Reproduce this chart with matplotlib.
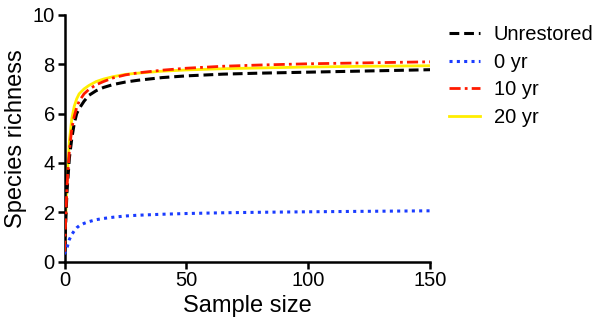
import numpy as np
import matplotlib
matplotlib.use("Agg")
import matplotlib.pyplot as plt

plt.rcParams['font.family'] = ['Liberation Sans', 'DejaVu Sans']

# tamaño de muestra (eje x)
muestra = [0, 1, 2, 3, 4, 5, 6, 8, 10, 13, 16, 20, 25, 30, 40, 50, 65, 80, 100, 125, 150]

# riqueza de especies
sin_restaurar = [0.4, 2.8, 4.2, 5.0, 5.6, 6.0, 6.2, 6.5, 6.74, 6.93, 7.06, 7.18, 7.28, 7.35, 7.46, 7.53, 7.6, 7.64, 7.68, 7.73, 7.78]
anio_0 = [0.3, 0.55, 0.9, 1.1, 1.25, 1.37, 1.45, 1.55, 1.62, 1.7, 1.75, 1.8, 1.85, 1.88, 1.92, 1.95, 1.98, 2.0, 2.02, 2.04, 2.06]
anio_10 = [0.4, 3.0, 4.5, 5.4, 5.9, 6.25, 6.5, 6.8, 6.98, 7.17, 7.3, 7.45, 7.57, 7.65, 7.76, 7.84, 7.92, 7.97, 8.02, 8.06, 8.1]
anio_20 = [0.35, 3.3, 4.9, 5.8, 6.3, 6.6, 6.8, 7.0, 7.14, 7.3, 7.4, 7.5, 7.59, 7.64, 7.72, 7.77, 7.82, 7.85, 7.89, 7.92, 7.94]

etiquetas = ["Unrestored", "0 yr", "10 yr", "20 yr"]

fig = plt.figure(figsize=(6.0, 3.32), dpi=100)
ax = fig.add_axes([0.1075, 0.212, 0.6095, 0.743])

ax.plot(muestra, sin_restaurar, color="black", linestyle=(0, (3.2, 1.6)), linewidth=2.2, label=etiquetas[0], zorder=3)
ax.plot(muestra, anio_0, color="#1a3cff", linestyle=(0, (1, 1.4)), linewidth=2.2, label=etiquetas[1], zorder=3)
ax.plot(muestra, anio_10, color="#ff1a00", linestyle=(0, (4, 1.5, 1, 1.5)), linewidth=2.0, label=etiquetas[2], zorder=4)
ax.plot(muestra, anio_20, color="#ffee00", linestyle="-", linewidth=2.0, label=etiquetas[3], zorder=2)

ax.set_xlim(0, 150)
ax.set_ylim(0, 10)
ax.set_xticks([0, 50, 100, 150])
ax.set_yticks([0, 2, 4, 6, 8, 10])

for lado in ["top", "right"]:
    ax.spines[lado].set_visible(False)
for lado in ["left", "bottom"]:
    ax.spines[lado].set_linewidth(1.8)
ax.tick_params(width=1.8, length=5, labelsize=14.5, pad=2)

ax.set_xlabel("Sample size", fontsize=17, labelpad=3)
ax.set_ylabel("Species richness", fontsize=17, labelpad=4)

ax.legend(loc="upper left", bbox_to_anchor=(1.03, 0.99), frameon=False, fontsize=14.5,
          handlelength=1.55, handletextpad=0.65, labelspacing=0.42, borderaxespad=0)

fig.savefig("out.png", dpi=100)
